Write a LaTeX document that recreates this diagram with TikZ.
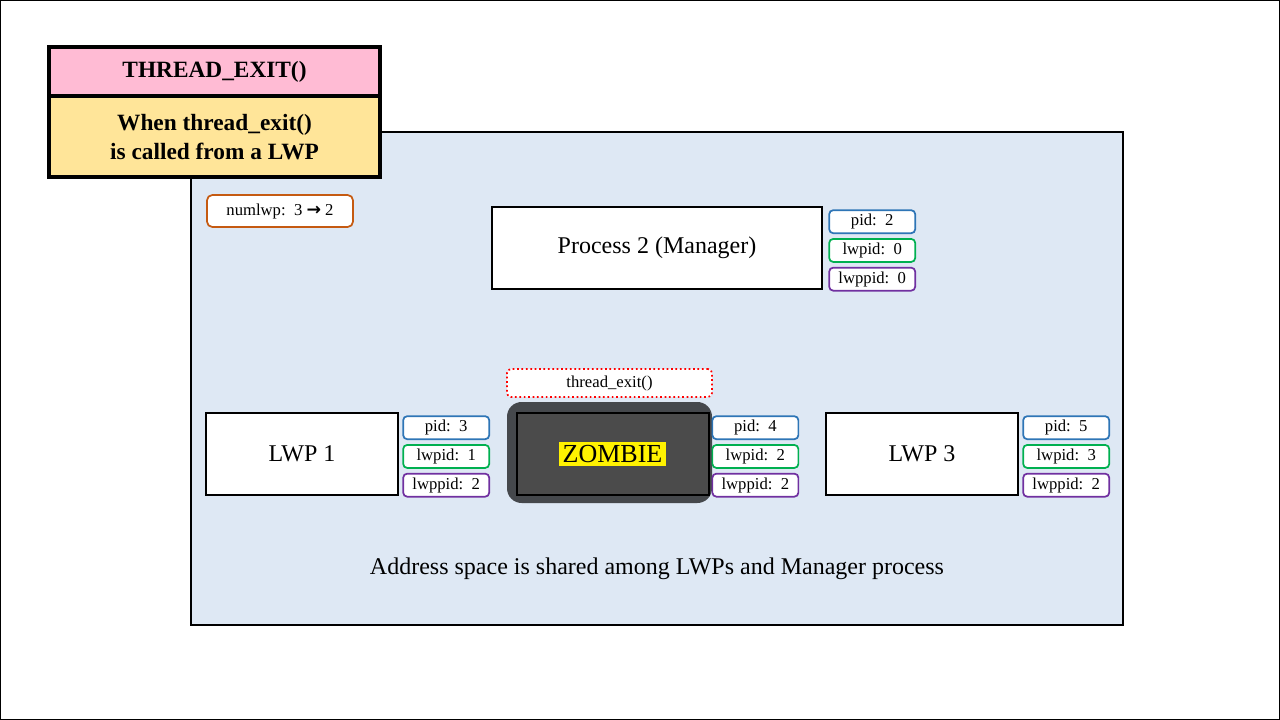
\documentclass[tikz,border=0pt]{standalone}
\usepackage{fontspec}
\setmainfont{Liberation Serif}
\newfontfamily\arrowfont{DejaVu Sans}
\usetikzlibrary{positioning}

\definecolor{spaceblue}{HTML}{DEE8F4}
\definecolor{titlepink}{HTML}{FFBBD4}
\definecolor{titleyellow}{HTML}{FFE599}
\definecolor{numorange}{HTML}{C55A11}
\definecolor{pidblue}{HTML}{2E75B6}
\definecolor{lwpgreen}{HTML}{00B050}
\definecolor{lwppurple}{HTML}{7030A0}
\definecolor{zombieout}{HTML}{45484C}
\definecolor{zombiein}{HTML}{4B4B4B}

\tikzset{
  bigfont/.style={font=\fontsize{18}{21}\selectfont},
  smallfont/.style={font=\fontsize{12.5}{14}\selectfont},
  titlebox/.style={draw=black, line width=3pt, minimum width=248.25pt, inner sep=0pt,
    align=center, font=\bfseries\fontsize{17.5}{22}\selectfont},
  procbox/.style={draw=black, line width=1.5pt, fill=white, minimum height=61.5pt,
    inner sep=0pt, bigfont},
  tagbox/.style={draw, fill=white, rounded corners=3pt, line width=1.3pt,
    minimum width=64.5pt, minimum height=17.25pt, inner sep=0pt, smallfont},
  pidtag/.style={tagbox, draw=pidblue},
  lwpidtag/.style={tagbox, draw=lwpgreen},
  lwppidtag/.style={tagbox, draw=lwppurple}
}

\begin{document}
\begin{tikzpicture}[x=0.75pt, y=-0.75pt]
\useasboundingbox (0,0) rectangle (1280,720);
\draw[black, line width=0.75pt] (0.5,0.5) rectangle (1279.5,719.5);

%shared address space
\draw[black, fill=spaceblue, line width=1.2pt] (191,132) rectangle (1123,625);
\node[bigfont] (space) at (657,569) {Address space is shared among LWPs and Manager process};

%title
\node[titlebox, fill=titlepink, minimum height=36.75pt] (title) at (214.5,71.5) {THREAD\_EXIT()};
\node[titlebox, fill=titleyellow, minimum height=60.75pt] (when) at (214.5,137) {When thread\_exit()\\is called from a LWP};

\node[draw=numorange, fill=white, rounded corners=4pt, line width=1.3pt, minimum width=109.5pt,
  minimum height=24pt, inner sep=0pt, smallfont] (numlwp) at (280,211)
  {numlwp:\ \ 3 {\arrowfont\bfseries\fontsize{13}{12}\selectfont →} 2};

%draw process 2
\node[procbox, minimum width=247.5pt] (manager) at (657,248) {Process 2 (Manager)};
\node[pidtag, anchor=north west] (pid0) at ([xshift=4pt,yshift=-2.5pt]manager.north east) {pid:\ \ 2};
\node[lwpidtag, below=3pt of pid0] (lwpid0) {lwpid:\ \ 0};
\node[lwppidtag, below=3pt of lwpid0] (lwppid0) {lwppid:\ \ 0};

%draw LWP 1
\node[procbox, minimum width=144pt] (lwp1) at (302,454) {LWP 1};
\node[pidtag, anchor=north west] (pid1) at ([xshift=2.5pt,yshift=-2.5pt]lwp1.north east) {pid:\ \ 3};
\node[lwpidtag, below=3pt of pid1] (lwpid1) {lwpid:\ \ 1};
\node[lwppidtag, below=3pt of lwpid1] (lwppid1) {lwppid:\ \ 2};

%draw zombie (LWP 2)
\fill[zombieout, rounded corners=11pt] (507,402) rectangle (712,503);
\node[procbox, fill=zombiein, minimum width=144pt] (lwp2) at (612.5,454)
  {\setlength{\fboxsep}{2.5pt}\colorbox{yellow}{\fontsize{19.5}{21}\selectfont ZOMBIE}};
\node[draw=red, dotted, line width=1.3pt, fill=white, rounded corners=3pt, minimum width=153.75pt,
  minimum height=21pt, inner sep=0pt, smallfont] (exitcall) at (609.5,383) {thread\_exit()};
\node[pidtag, anchor=north west] (pid2) at ([xshift=1.5pt,yshift=-2.5pt]lwp2.north east) {pid:\ \ 4};
\node[lwpidtag, below=3pt of pid2] (lwpid2) {lwpid:\ \ 2};
\node[lwppidtag, below=3pt of lwpid2] (lwppid2) {lwppid:\ \ 2};

%draw LWP 3
\node[procbox, minimum width=144pt] (lwp3) at (922,454) {LWP 3};
\node[pidtag, anchor=north west] (pid3) at ([xshift=2.5pt,yshift=-2.5pt]lwp3.north east) {pid:\ \ 5};
\node[lwpidtag, below=3pt of pid3] (lwpid3) {lwpid:\ \ 3};
\node[lwppidtag, below=3pt of lwpid3] (lwppid3) {lwppid:\ \ 2};
\end{tikzpicture}
\end{document}
